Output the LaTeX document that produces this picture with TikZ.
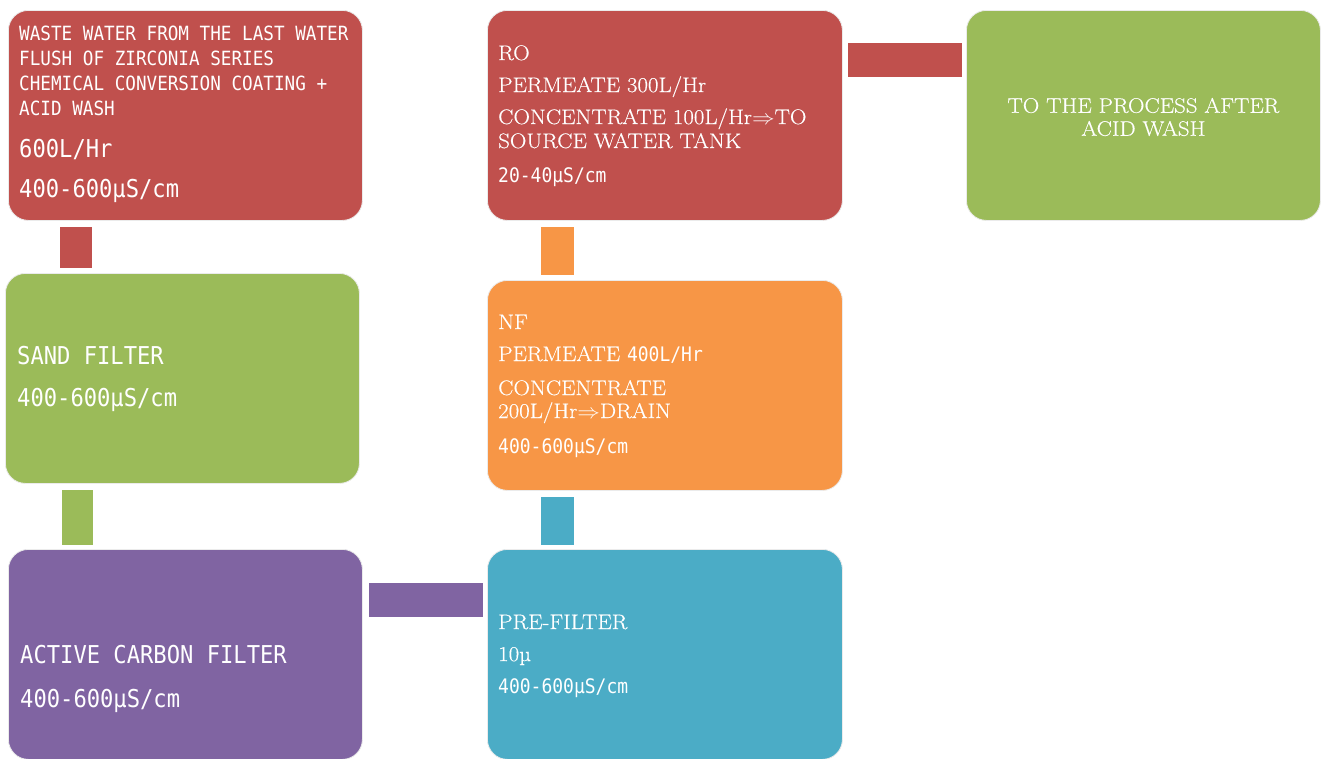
\documentclass[tikz,border=0pt]{standalone}
\usepackage{fontspec}
\setmainfont{Latin Modern Roman}[FakeStretch=1.09, FakeBold=0.4]
\newfontfamily\monof{DejaVu Sans Mono}[FakeStretch=0.9]
\usetikzlibrary{calc}
\definecolor{cred}{HTML}{C0504D}
\definecolor{cgreen}{HTML}{9BBB59}
\definecolor{cpurple}{HTML}{8064A2}
\definecolor{cblue}{HTML}{4BACC6}
\definecolor{corange}{HTML}{F79646}
\tikzset{
  box/.style={rounded corners=20pt, draw=white!92!black, line width=0.8pt, minimum width=354pt, minimum height=210pt, anchor=north west, inner sep=0pt},
  txt/.style={anchor=base west, text=white, inner sep=0pt},
  ms/.style={font=\monof\fontsize{19.6}{24}\selectfont},
  mm/.style={font=\monof\fontsize{20}{24}\selectfont},
  ml/.style={font=\monof\fontsize{24.6}{30}\selectfont},
  sf/.style={font=\fontsize{21}{24}\selectfont},
}
\newcommand{\imp}{\scalebox{1.09}[1]{$\Rightarrow$}}
\begin{document}
\begin{tikzpicture}[x=1pt,y=-1pt]
\useasboundingbox (0,0) rectangle (1321,758);
% boxes
\node[box, fill=cred] (b1) at (8,10) {};
\node[box, fill=cgreen] (b2) at (5,273) {};
\node[box, fill=cpurple] (b3) at (8,549) {};
\node[box, fill=cblue, minimum width=355pt] (b4) at (487,549) {};
\node[box, fill=corange, minimum width=355pt] (b5) at (487,280) {};
\node[box, fill=cred, minimum width=355pt] (b6) at (487,10) {};
\node[box, fill=cgreen] (b7) at (966,10) {};
% connector bars
\fill[cred] ($(b1.south west)+(52,6)$) rectangle ($(b1.south west)+(84,47)$);
\fill[cgreen] ($(b2.south west)+(57,6)$) rectangle ($(b2.south west)+(88,61)$);
\fill[cpurple] ($(b3.north east)+(6,34)$) rectangle ($(b3.north east)+(120,68)$);
\fill[cblue] ($(b5.south west)+(54,6)$) rectangle ($(b5.south west)+(87,54)$);
\fill[corange] ($(b6.south west)+(54,6)$) rectangle ($(b6.south west)+(87,54)$);
\fill[cred] ($(b6.north east)+(5,33)$) rectangle ($(b6.north east)+(119,67)$);
% box 1 text
\node[txt, ms] (t11) at (19,40) {WASTE WATER FROM THE LAST WATER};
\node[txt, ms] (t12) at (19,65) {FLUSH OF ZIRCONIA SERIES};
\node[txt, ms] (t13) at (19,90) {CHEMICAL CONVERSION COATING + };
\node[txt, ms] (t14) at (19,115) {ACID WASH};
\node[txt, ml] (t15) at (19,157) {600L/Hr};
\node[txt, ml] (t16) at (19,197) {400-600µS/cm};
% sand filter
\node[txt, ml] (t21) at (17,364) {SAND FILTER};
\node[txt, ml] (t22) at (17,406) {400-600µS/cm};
% active carbon
\node[txt, ml] (t31) at (20,663) {ACTIVE CARBON FILTER};
\node[txt, ml] (t32) at (20,707) {400-600µS/cm};
% pre-filter
\node[txt, sf] (t41) at (498,629) {PRE-FILTER};
\node[txt, sf] (t42) at (498,661) {10µ};
\node[txt, mm] (t43) at (498,693) {400-600µS/cm};
% NF
\node[txt, sf] (t51) at (498,329) {NF};
\node[txt, sf] (t52) at (498,361) {PERMEATE {\monof\fontsize{20}{24}\selectfont 400L/Hr}};
\node[txt, sf] (t53) at (498,395) {CONCENTRATE};
\node[txt, sf] (t54) at (498,418) {200L/Hr\imp DRAIN};
\node[txt, mm] (t55) at (498,453) {400-600µS/cm};
% RO
\node[txt, sf] (t61) at (498,60) {RO};
\node[txt, sf] (t62) at (498,92) {PERMEATE 300L/Hr};
\node[txt, sf] (t63) at (498,124) {CONCENTRATE 100L/Hr\imp TO};
\node[txt, sf] (t64) at (498,148) {SOURCE WATER TANK};
\node[txt, mm] (t65) at (498,182) {20-40µS/cm};
% final
\node[text=white, align=center, font=\fontsize{21}{23}\selectfont, inner sep=0pt] (t71) at ($(b7.north)+(0,107)$) {TO THE PROCESS AFTER\\ACID WASH};
\end{tikzpicture}
\end{document}
